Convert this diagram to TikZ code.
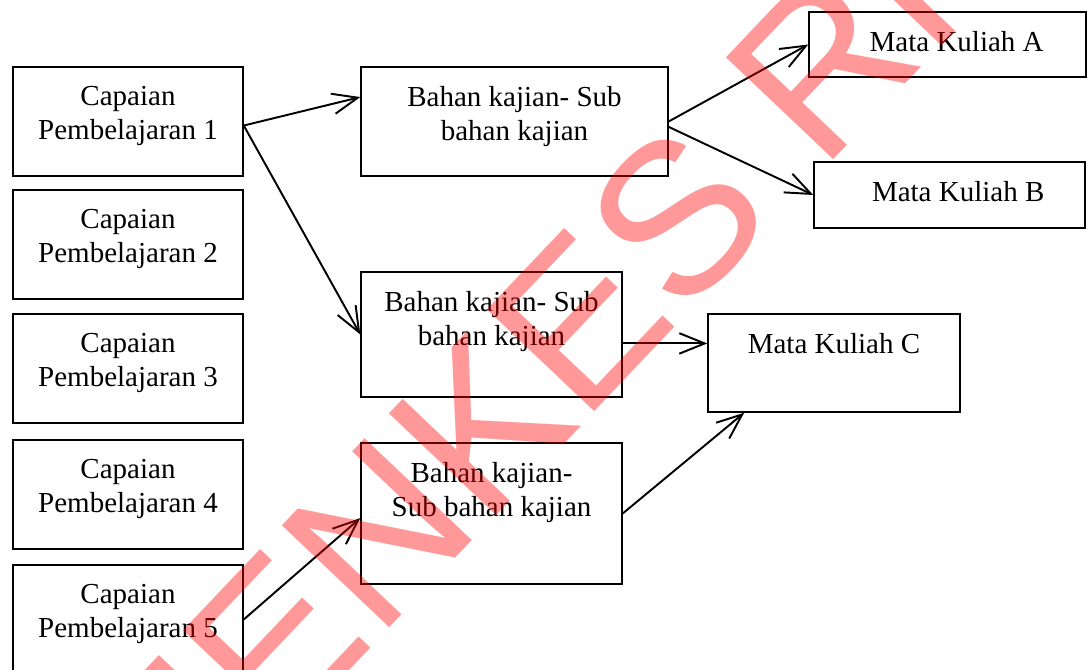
\documentclass[tikz,border=0pt]{standalone}
\usepackage{fontspec}
\setmainfont{Liberation Serif}
\newfontfamily\wmfont{Liberation Sans}
\usetikzlibrary{arrows.meta}

\tikzset{
  kotak/.style={draw, line width=0.6pt, inner sep=0pt},
  isi/.style={anchor=north, align=center, inner xsep=0pt, inner ysep=8pt, font=\fontsize{12}{14}\selectfont},
  panah/.style={-{Straight Barb[length=10.5pt,width=8.5pt]}, line width=0.8pt},
  tanda/.style={text=red, text opacity=0.4, inner sep=0pt, font=\wmfont\fontsize{89}{89}\selectfont}
}

\begin{document}
\begin{tikzpicture}[x=0.4138pt, y=-0.4138pt]

    \useasboundingbox (0,0) rectangle (1088,670);

    \node[kotak, minimum width=95.2pt, minimum height=45.1pt, label={[isi]north:Capaian\\Pembelajaran 1}] (cp1) at (128,121.5) {};
    \node[kotak, minimum width=95.2pt, minimum height=45.1pt, label={[isi]north:Capaian\\Pembelajaran 2}] (cp2) at (128,244.5) {};
    \node[kotak, minimum width=95.2pt, minimum height=45.1pt, label={[isi]north:Capaian\\Pembelajaran 3}] (cp3) at (128,368.5) {};
    \node[kotak, minimum width=95.2pt, minimum height=45.1pt, label={[isi]north:Capaian\\Pembelajaran 4}] (cp4) at (128,494.5) {};
    \node[kotak, minimum width=95.2pt, minimum height=45.1pt, label={[isi]north:Capaian\\Pembelajaran 5}] (cp5) at (128,619.5) {};

    \node[kotak, minimum width=127pt, minimum height=45.1pt, label={[isi]north:Bahan kajian- Sub\\bahan kajian}] (bk1) at (514.5,121.5) {};
    \node[kotak, minimum width=108pt, minimum height=51.7pt, label={[isi]north:Bahan kajian- Sub\\bahan kajian}] (bk2) at (491.5,334.5) {};
    \node[kotak, minimum width=108pt, minimum height=58.3pt, label={[isi]north:Bahan kajian-\\Sub bahan kajian}] (bk3) at (491.5,513.5) {};

    \node[kotak, minimum width=114.6pt, minimum height=26.9pt, label={[isi, xshift=3.8pt]north:Mata Kuliah A}] (mka) at (947.5,44.5) {};
    \node[kotak, minimum width=112.1pt, minimum height=27.3pt, label={[isi, xshift=3.6pt]north:Mata Kuliah B}] (mkb) at (949.5,195) {};
    \node[kotak, minimum width=104.3pt, minimum height=40.6pt, label={[isi]north:Mata Kuliah C}] (mkc) at (834,363) {};

    \draw[panah] (cp1.-2) -- (bk1.171);
    \draw[panah] (cp1.-2) -- (bk2.west);
    \draw[panah] (bk1.east) -- (mka.west);
    \draw[panah] (bk1.-2) -- (mkb.west);
    \draw[panah] ([yshift=-3.7pt]bk2.east) -- ([yshift=-3.7pt]bk2.east -| mkc.west);
    \draw[panah] (bk3.east) -- (mkc.209);
    \draw[panah] (cp5.east) -- (bk3.182);

    \node[tanda, rotate=46.5] (wm) at (410,499) {KEMENKES RI};

\end{tikzpicture}
\end{document}
